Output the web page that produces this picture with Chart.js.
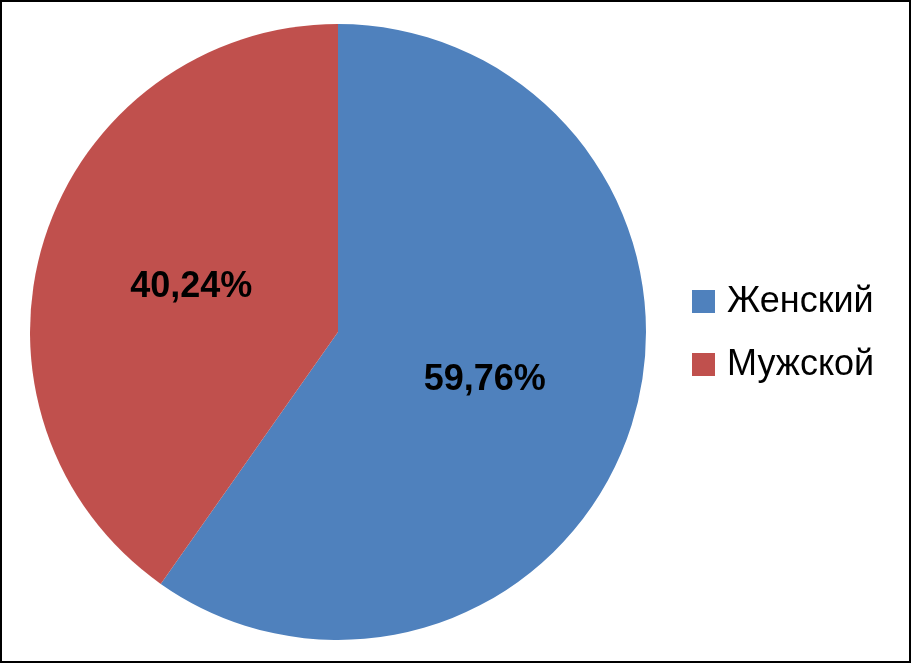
<!DOCTYPE html>
<html>
<head>
<meta charset="utf-8">
<script src="https://cdn.jsdelivr.net/npm/chart.js@4"></script>
<style>
  html, body { margin: 0; padding: 0; background: #fff; }
  .frame { width: 907px; height: 659px; border: 2px solid #000; }
  canvas { display: block; }
</style>
</head>
<body>
<div class="frame"><canvas id="pie" width="907" height="659"></canvas></div>
<script>
// данные
const labels = ['Женский', 'Мужской'];
const values = [59.76, 40.24];
const colors = ['#4F81BD', '#C0504D'];

// подписи процентов внутри секторов
const sliceLabels = {
  id: 'sliceLabels',
  afterDatasetsDraw(chart) {
    const ctx = chart.ctx;
    const meta = chart.getDatasetMeta(0);
    ctx.save();
    ctx.font = 'bold 36px "Liberation Sans", Arial, sans-serif';
    ctx.fillStyle = '#000';
    ctx.textAlign = 'center';
    ctx.textBaseline = 'middle';
    meta.data.forEach((arc, i) => {
      const p = arc.tooltipPosition();
      const txt = values[i].toFixed(2).replace('.', ',') + '%';
      ctx.fillText(txt, p.x, p.y + 2);
    });
    ctx.restore();
  }
};

// легенда справа
const sideLegend = {
  id: 'sideLegend',
  afterDraw(chart) {
    const ctx = chart.ctx;
    ctx.save();
    ctx.font = '36px "Liberation Sans", Arial, sans-serif';
    ctx.textBaseline = 'middle';
    labels.forEach((name, i) => {
      const y = 299 + i * 63;
      ctx.fillStyle = colors[i];
      ctx.fillRect(690, y - 11, 23, 23);
      ctx.fillStyle = '#000';
      ctx.fillText(name, 725, y + 1);
    });
    ctx.restore();
  }
};

new Chart(document.getElementById('pie'), {
  type: 'pie',
  data: {
    labels: labels,
    datasets: [{
      data: values,
      backgroundColor: colors,
      borderWidth: 0
    }]
  },
  options: {
    responsive: false,
    animation: false,
    layout: { padding: { left: 28, right: 263, top: 22, bottom: 21 } },
    plugins: {
      legend: { display: false },
      tooltip: { enabled: false }
    }
  },
  plugins: [sliceLabels, sideLegend]
});
</script>
</body>
</html>
